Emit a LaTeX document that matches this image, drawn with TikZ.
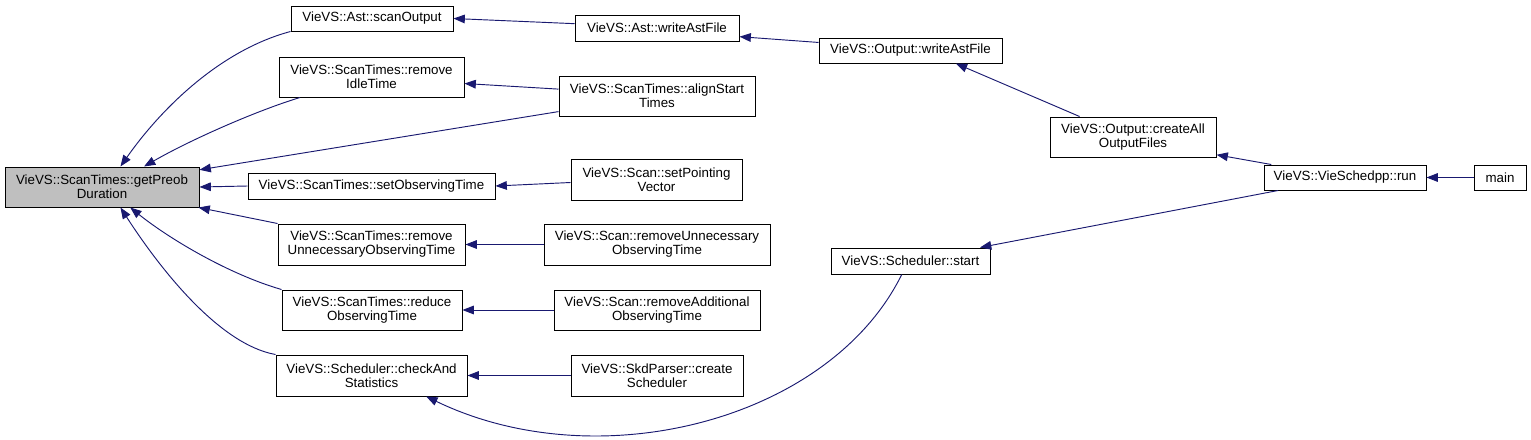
\documentclass[tikz,border=0pt]{standalone}
\usepackage{fontspec}
\setmainfont{Liberation Sans}
\usetikzlibrary{arrows.meta}
\definecolor{edgeblue}{HTML}{191970}
\definecolor{hilite}{HTML}{BFBFBF}

\begin{document}
\begin{tikzpicture}[x=0.75pt, y=-0.75pt,
    fn/.style={draw=black, line width=0.75pt, fill=white, align=center, inner sep=0pt,
      font=\fontsize{10}{10.5}\selectfont},
    sz/.style 2 args={minimum width=#1*0.75pt, minimum height=#2*0.75pt},
    call/.style={draw=edgeblue, line width=0.7pt, -{Triangle[length=8.5pt,width=6.5pt]}}]
        \useasboundingbox (0,0) rectangle (1531,439);

        % Ham goc
        \node[fn, sz={194}{40}, fill=hilite] (gpd) at (102,187) {VieVS::ScanTimes::getPreob\\Duration};

        % Cot 1
        \node[fn, sz={162}{25}] (scanout) at (372,18.5) {VieVS::Ast::scanOutput};
        \node[fn, sz={185}{40}] (idle) at (371.5,77) {VieVS::ScanTimes::remove\\IdleTime};
        \node[fn, sz={247}{26}] (setobs) at (371.5,186) {VieVS::ScanTimes::setObservingTime};
        \node[fn, sz={187}{41}] (remunn) at (371.5,244.5) {VieVS::ScanTimes::remove\\UnnecessaryObservingTime};
        \node[fn, sz={180}{40}] (reduce) at (372,310) {VieVS::ScanTimes::reduce\\ObservingTime};
        \node[fn, sz={191}{41}] (check) at (371.5,375.5) {VieVS::Scheduler::checkAnd\\Statistics};

        % Cot 2
        \node[fn, sz={164}{26}] (astwrite) at (657,28) {VieVS::Ast::writeAstFile};
        \node[fn, sz={196}{40}] (align) at (657,96) {VieVS::ScanTimes::alignStart\\Times};
        \node[fn, sz={171}{41}] (setpoint) at (656.5,179.5) {VieVS::Scan::setPointing\\Vector};
        \node[fn, sz={226}{41}] (scanunn) at (657,244.5) {VieVS::Scan::removeUnnecessary\\ObservingTime};
        \node[fn, sz={206}{40}] (addit) at (657,310) {VieVS::Scan::removeAdditional\\ObservingTime};
        \node[fn, sz={172}{41}] (create) at (657,375.5) {VieVS::SkdParser::create\\Scheduler};

        % Cot 3, 4, 5
        \node[fn, sz={183}{25}] (outwrite) at (910.5,50.5) {VieVS::Output::writeAstFile};
        \node[fn, sz={159}{26}] (start) at (910.5,261) {VieVS::Scheduler::start};
        \node[fn, sz={166}{40}] (alloutput) at (1133,137) {VieVS::Output::createAll\\OutputFiles};
        \node[fn, sz={162}{25}] (run) at (1345,177.5) {VieVS::VieSchedpp::run};
        \node[fn, sz={52}{25}] (main) at (1500,177.5) {main};

        % Cac loi goi toi getPreobDuration
        \draw[call] (scanout.south west) .. controls +(-71,19) and +(40,-57) .. (gpd.48);
        \draw[call] (idle.196) .. controls +(-43,13) and +(47,-27) .. (gpd.26);
        \draw[call] (align.189) -- (gpd.10);
        \draw[call] (setobs.west) -- (gpd.east);
        \draw[call] (remunn.north west) -- (gpd.-12);
        \draw[call] (reduce.north west) .. controls +(-52,-15) and +(40,32) .. (gpd.-36);
        \draw[call] (check.north west) .. controls +(-56,-10) and +(40,62) .. (gpd.-48);

        % Cot 2 -> cot 1
        \draw[call] (astwrite.177) -- (scanout.east);
        \draw[call] (align.176) -- (idle.-4);
        \draw[call] (setpoint.182) -- (setobs.east);
        \draw[call] (scanunn.west) -- (remunn.east);
        \draw[call] (addit.west) -- (reduce.east);
        \draw[call] (create.west) -- (check.east);

        % Phan ben phai
        \draw[call] (outwrite.175) -- (astwrite.-6);
        \draw[call] (alloutput.159) -- (outwrite.-16);
        \draw[call] (run.170) -- (alloutput.-12);
        \draw[call] (run.191) -- (start.11);
        \draw[call] (start.237) .. controls +(-72,146) and +(172,83) .. (check.-21);
        \draw[call] (main.west) -- (run.east);
    \end{tikzpicture}
\end{document}
